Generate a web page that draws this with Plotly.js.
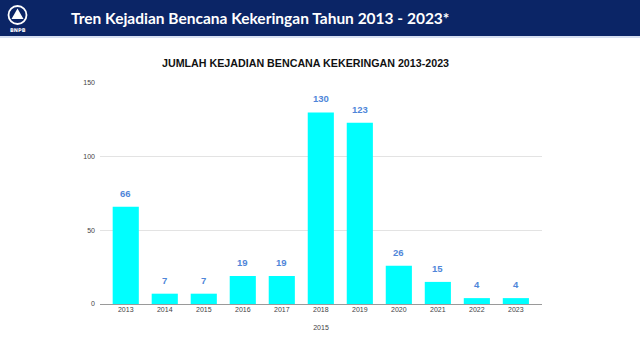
<!DOCTYPE html>
<html>
<head>
<meta charset="utf-8">
<script src="https://cdn.plot.ly/plotly-3.0.1.min.js"></script>
<style>html,body{margin:0;padding:0;background:#fff;}#chart{width:640px;height:360px;}</style>
</head>
<body>
<div id="chart"></div>
<script>
const years = ["2013","2014","2015","2016","2017","2018","2019","2020","2021","2022","2023"];
const counts = [66, 7, 7, 19, 19, 130, 123, 26, 15, 4, 4];
const yTicks = [0, 50, 100, 150];
const headerTitle = "Tren Kejadian Bencana Kekeringan Tahun 2013 - 2023*";
const chartTitle = "JUMLAH KEJADIAN BENCANA KEKERINGAN 2013-2023";
const xAxisTitle = "2015";

const FW = 640, FH = 360;
const M = {l: 100, r: 98, t: 83, b: 56};
const PW = FW - M.l - M.r, PH = FH - M.t - M.b;
const px = x => (x - M.l) / PW;
const py = y => (FH - M.b - y) / PH;

const bars = {
  type: 'bar', x: years, y: counts,
  marker: {color: '#00ffff'},
  hoverinfo: 'none'
};

const labelAnns = years.map((yr, i) => ({
  x: i, y: counts[i], xref: 'x', yref: 'y',
  text: String(counts[i]), showarrow: false,
  yanchor: 'bottom', yshift: 6,
  font: {family: 'Liberation Sans, Arial, sans-serif', size: 9.5, color: '#4f86d9', weight: 'bold'}
}));

const layout = {
  width: FW, height: FH,
  margin: M,
  paper_bgcolor: '#ffffff', plot_bgcolor: '#ffffff',
  showlegend: false,
  bargap: 0.33,
  xaxis: {
    type: 'category', range: [-0.66, 10.67],
    showgrid: false, showline: false, zeroline: false,
    ticks: '', tickfont: {family: 'Liberation Sans, Arial, sans-serif', size: 7, color: '#444'},
    title: {text: xAxisTitle, standoff: 13, font: {family: 'Liberation Sans, Arial, sans-serif', size: 7, color: '#444'}}
  },
  yaxis: {
    range: [0, 150], tickvals: yTicks,
    showgrid: true, gridcolor: '#e3e3e3', gridwidth: 1,
    zeroline: true, zerolinecolor: '#9a9a9a', zerolinewidth: 1,
    showline: false, ticks: '', ticklabelstandoff: 4,
    tickfont: {family: 'Liberation Sans, Arial, sans-serif', size: 7, color: '#444'}
  },
  shapes: [
    {type: 'rect', xref: 'paper', yref: 'paper', x0: px(0), x1: px(FW), y0: py(0), y1: py(36),
     fillcolor: '#0b2566', line: {width: 0}, layer: 'below'},
    {type: 'line', xref: 'paper', yref: 'paper', x0: px(0), x1: px(FW), y0: py(37), y1: py(37),
     line: {color: '#c9d5ec', width: 1.5}},
    {type: 'circle', xref: 'paper', yref: 'paper', x0: px(8.5), x1: px(26.5), y0: py(6), y1: py(24),
     fillcolor: '#0b2566', line: {color: '#ffffff', width: 1.8}},
    {type: 'path', xref: 'paper', yref: 'paper',
     path: `M ${px(17.5)} ${py(8.5)} L ${px(11.5)} ${py(19)} L ${px(23.5)} ${py(19)} Z`,
     fillcolor: '#ffffff', line: {width: 0}}
  ],
  annotations: [
    {xref: 'paper', yref: 'paper', x: px(260), y: py(18), xanchor: 'center', yanchor: 'middle',
     text: headerTitle, showarrow: false,
     font: {family: 'Lato, Open Sans, sans-serif', size: 15.5, color: '#ffffff', weight: 'bold'}},
    {xref: 'paper', yref: 'paper', x: px(17.5), y: py(30), xanchor: 'center', yanchor: 'middle',
     text: 'BNPB', showarrow: false,
     font: {family: 'DejaVu Sans, sans-serif', size: 5, color: '#ffffff', weight: 'bold'}},
    {xref: 'paper', yref: 'paper', x: px(305), y: py(63), xanchor: 'center', yanchor: 'middle',
     text: chartTitle, showarrow: false,
     font: {family: 'Liberation Sans, Arial, sans-serif', size: 10.7, color: '#111111', weight: 'bold'}}
  ].concat(labelAnns)
};

Plotly.newPlot('chart', [bars], layout, {displayModeBar: false, staticPlot: true});
</script>
</body>
</html>
